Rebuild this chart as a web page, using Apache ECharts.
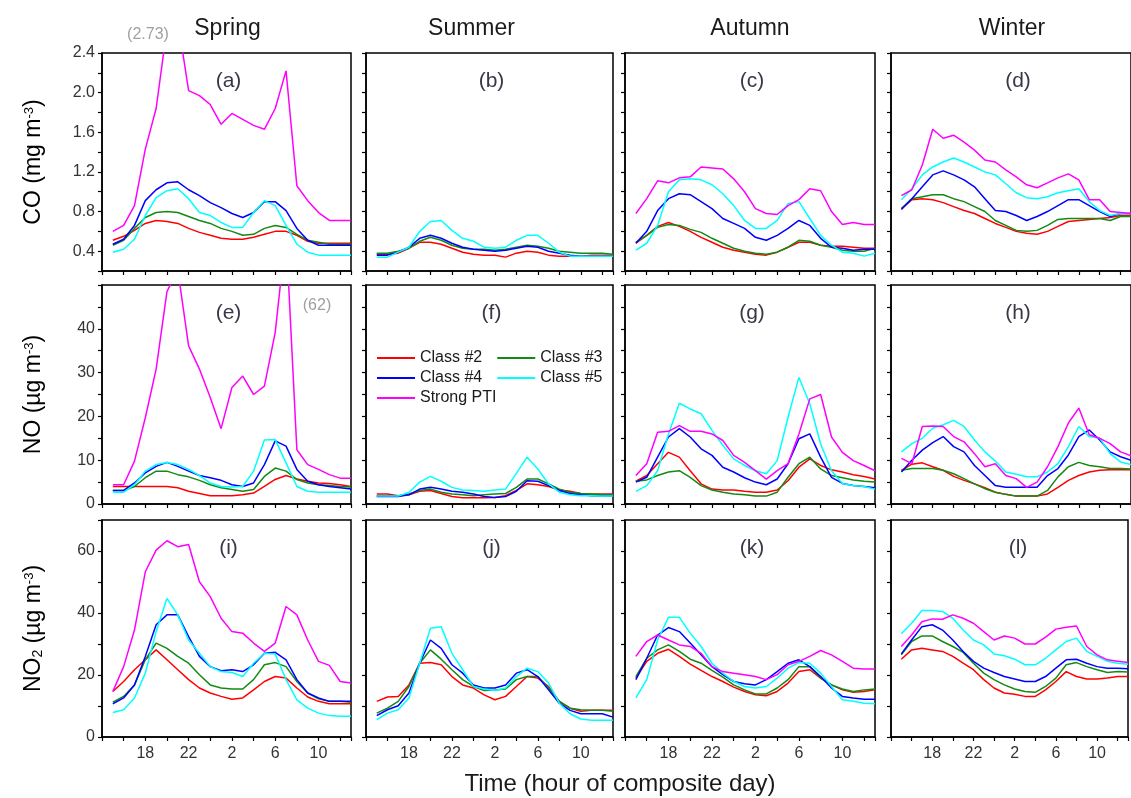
<!DOCTYPE html>
<html>
<head>
<meta charset="utf-8">
<title>PTI diurnal composites</title>
<script src="https://cdn.jsdelivr.net/npm/echarts/dist/echarts.min.js"></script>
<style>
  html, body { margin: 0; padding: 0; background: #fff; }
  #chart { width: 1131px; height: 798px; }
</style>
</head>
<body>
<div id="chart"></div>
<script>
// hour of composite day (15 = 15:00, 37 = 13:00 next day)
const hours = [15,16,17,18,19,20,21,22,23,24,25,26,27,28,29,30,31,32,33,34,35,36,37];
const seasons = ['Spring', 'Summer', 'Autumn', 'Winter'];
const panelTags = ['(a)','(b)','(c)','(d)','(e)','(f)','(g)','(h)','(i)','(j)','(k)','(l)'];
const classNames = ['Class #2', 'Class #3', 'Class #4', 'Class #5', 'Strong PTI'];

// CO (mg m-3)
const co_spring_c2 = [0.51,0.55,0.61,0.68,0.71,0.70,0.68,0.63,0.59,0.56,0.53,0.52,0.52,0.54,0.57,0.60,0.60,0.56,0.50,0.48,0.48,0.48,0.48];
const co_spring_c3 = [0.46,0.51,0.63,0.74,0.79,0.80,0.79,0.75,0.71,0.68,0.63,0.60,0.56,0.57,0.63,0.66,0.64,0.57,0.51,0.49,0.47,0.47,0.47];
const co_spring_c4 = [0.47,0.52,0.66,0.91,1.02,1.09,1.10,1.02,0.96,0.89,0.84,0.78,0.74,0.79,0.90,0.90,0.81,0.63,0.51,0.46,0.46,0.46,0.46];
const co_spring_c5 = [0.39,0.42,0.52,0.76,0.94,1.01,1.03,0.93,0.79,0.76,0.69,0.64,0.64,0.79,0.91,0.86,0.66,0.47,0.39,0.36,0.36,0.36,0.36];
const co_spring_pti = [0.60,0.66,0.86,1.43,1.84,2.65,2.73,2.02,1.97,1.88,1.68,1.79,1.73,1.67,1.63,1.84,2.22,1.06,0.91,0.79,0.71,0.71,0.71];

const co_summer_c2 = [0.37,0.37,0.38,0.43,0.49,0.49,0.47,0.43,0.39,0.37,0.36,0.36,0.34,0.38,0.40,0.39,0.36,0.35,0.35,0.35,0.36,0.36,0.36];
const co_summer_c3 = [0.38,0.38,0.40,0.43,0.50,0.54,0.51,0.46,0.43,0.42,0.42,0.41,0.42,0.44,0.46,0.45,0.43,0.40,0.39,0.38,0.38,0.38,0.37];
const co_summer_c4 = [0.36,0.36,0.39,0.44,0.53,0.56,0.53,0.48,0.44,0.42,0.41,0.40,0.41,0.43,0.45,0.44,0.40,0.38,0.36,0.35,0.35,0.35,0.35];
const co_summer_c5 = [0.34,0.34,0.39,0.44,0.60,0.70,0.71,0.61,0.53,0.50,0.44,0.43,0.44,0.51,0.56,0.56,0.48,0.39,0.35,0.35,0.35,0.35,0.35];

const co_autumn_c2 = [0.48,0.56,0.65,0.69,0.65,0.60,0.54,0.49,0.44,0.41,0.39,0.37,0.36,0.39,0.44,0.49,0.49,0.46,0.45,0.45,0.44,0.43,0.43];
const co_autumn_c3 = [0.49,0.56,0.64,0.67,0.66,0.62,0.59,0.53,0.48,0.43,0.40,0.38,0.37,0.39,0.44,0.51,0.50,0.46,0.44,0.41,0.40,0.40,0.43];
const co_autumn_c4 = [0.48,0.60,0.81,0.93,0.98,0.97,0.90,0.83,0.73,0.68,0.63,0.54,0.51,0.56,0.63,0.71,0.66,0.53,0.44,0.43,0.41,0.42,0.42];
const co_autumn_c5 = [0.41,0.48,0.66,1.00,1.12,1.13,1.12,1.07,0.98,0.86,0.71,0.63,0.63,0.71,0.88,0.90,0.73,0.56,0.46,0.39,0.38,0.35,0.38];
const co_autumn_pti = [0.78,0.93,1.11,1.09,1.14,1.15,1.25,1.24,1.23,1.13,1.00,0.83,0.78,0.77,0.86,0.92,1.03,1.01,0.80,0.67,0.69,0.67,0.67];

const co_winter_c2 = [0.83,0.92,0.93,0.92,0.89,0.85,0.81,0.78,0.73,0.68,0.64,0.60,0.58,0.57,0.60,0.65,0.70,0.71,0.72,0.73,0.74,0.76,0.76];
const co_winter_c3 = [0.83,0.93,0.95,0.97,0.97,0.93,0.90,0.85,0.80,0.71,0.66,0.61,0.60,0.61,0.66,0.72,0.73,0.73,0.73,0.73,0.71,0.75,0.75];
const co_winter_c4 = [0.82,0.93,1.05,1.17,1.21,1.17,1.12,1.05,0.93,0.81,0.80,0.76,0.71,0.75,0.80,0.86,0.92,0.92,0.86,0.80,0.75,0.78,0.78];
const co_winter_c5 = [0.92,1.03,1.17,1.25,1.30,1.34,1.30,1.25,1.20,1.17,1.08,0.99,0.94,0.93,0.95,0.99,1.01,1.03,0.90,0.81,0.76,0.78,0.78];
const co_winter_pti = [0.96,1.02,1.27,1.63,1.54,1.57,1.50,1.42,1.32,1.30,1.22,1.15,1.07,1.04,1.09,1.14,1.18,1.12,0.92,0.92,0.80,0.79,0.78];

// NO (ug m-3)
const no_spring_c2 = [4.0,4.0,4.0,4.0,4.0,4.0,3.7,2.9,2.4,1.9,1.9,1.9,2.1,2.5,4.0,5.6,6.5,5.7,5.2,4.8,4.7,4.4,4.0];
const no_spring_c3 = [3.1,3.1,4.0,6.0,7.5,7.5,6.7,6.2,5.4,4.4,3.7,3.3,2.9,3.3,6.3,8.2,7.5,5.6,4.8,4.4,4.2,4.0,3.9];
const no_spring_c4 = [3.1,3.1,4.8,7.1,8.6,9.5,8.6,7.5,6.5,6.0,5.4,4.4,4.0,4.8,9.0,14.4,13.2,7.9,5.2,4.4,4.0,3.7,3.4];
const no_spring_c5 = [2.7,2.7,4.4,7.5,9.0,9.5,9.0,7.9,6.5,4.8,4.0,3.9,4.0,7.5,14.6,14.7,9.4,4.0,2.9,2.7,2.7,2.7,2.7];
const no_spring_pti = [4.4,4.4,9.8,19.7,30.8,48.5,53.5,36.1,30.8,24.3,17.2,26.6,29.2,25.0,26.9,39.2,62.0,12.4,9.0,7.9,6.7,5.9,5.9];

const no_summer_c2 = [2.3,2.3,1.9,2.1,2.9,3.1,2.4,1.7,1.4,1.4,1.4,1.5,1.9,3.1,4.6,4.4,4.0,3.2,2.9,2.4,2.3,2.3,2.3];
const no_summer_c3 = [1.9,1.9,1.9,2.3,3.1,3.4,2.7,2.3,2.1,1.9,2.1,2.3,2.4,3.8,5.7,5.7,4.6,3.4,2.7,2.4,2.3,2.1,2.1];
const no_summer_c4 = [1.7,1.7,1.7,2.1,3.4,3.8,3.4,2.9,2.7,2.3,1.7,1.5,1.7,2.9,5.3,5.2,4.2,3.1,2.4,2.1,1.9,1.9,1.8];
const no_summer_c5 = [1.8,1.8,1.8,2.7,5.0,6.3,5.2,3.8,3.2,3.1,2.9,3.2,3.4,7.0,10.7,8.0,4.6,2.7,2.1,1.9,1.9,1.8,1.8];

const no_autumn_c2 = [5.2,6.5,9.2,11.8,10.7,7.6,4.6,3.4,3.2,3.2,2.9,2.7,2.7,3.2,5.3,8.4,10.3,8.8,7.8,7.3,6.7,6.3,5.7];
const no_autumn_c3 = [5.2,5.5,6.5,7.3,7.6,6.1,4.2,3.2,2.7,2.3,2.1,1.8,1.8,2.7,6.1,9.2,10.7,8.0,6.5,6.0,5.5,5.2,5.0];
const no_autumn_c4 = [5.0,6.1,10.7,15.3,17.2,15.3,12.6,11.1,8.4,7.3,6.0,5.0,4.4,5.7,9.2,14.9,16.0,10.7,6.1,4.7,4.2,4.0,3.7];
const no_autumn_c5 = [2.9,4.2,7.6,16.0,23.0,21.7,20.6,16.8,13.4,10.3,8.8,7.6,6.9,9.9,19.8,28.9,22.9,13.7,7.6,4.7,4.2,4.0,3.4];
const no_autumn_pti = [6.5,9.2,16.4,16.6,17.9,16.6,16.6,16.0,14.5,11.1,9.5,7.6,5.7,7.6,9.2,16.0,24.0,25.0,15.3,11.8,9.9,8.8,7.6];

const no_winter_c2 = [7.7,9.1,9.4,8.5,7.7,6.3,5.4,4.6,3.7,2.7,2.2,1.8,1.8,1.8,2.3,3.8,5.4,6.5,7.3,7.7,7.8,7.8,7.8];
const no_winter_c3 = [7.7,8.1,8.1,8.1,7.7,6.9,5.8,4.6,3.5,2.7,2.2,1.8,1.8,1.8,3.1,6.2,8.5,9.5,8.8,8.5,8.1,8.1,8.0];
const no_winter_c4 = [7.3,10.0,12.3,14.0,15.4,13.1,11.9,8.8,6.5,4.2,3.8,3.8,3.8,3.8,6.5,8.1,11.2,15.4,16.9,14.6,11.9,10.8,10.0];
const no_winter_c5 = [11.9,13.8,15.0,17.3,18.1,19.1,17.7,14.6,11.9,9.8,7.3,6.8,6.2,6.2,7.3,9.2,13.1,17.7,15.4,15.0,11.5,9.6,9.0];
const no_winter_pti = [10.4,9.2,17.7,17.8,17.7,15.4,14.2,11.5,8.5,9.2,6.5,5.8,3.8,5.0,8.5,13.1,18.5,21.9,15.8,15.0,13.8,11.9,11.0];

// NO2 (ug m-3)
const no2_spring_c2 = [14.7,17.9,21.7,24.9,28.1,24.9,21.7,18.5,15.8,14.2,13.1,12.2,12.6,15.2,17.9,19.5,19.0,15.8,12.9,11.5,10.7,10.7,10.7];
const no2_spring_c3 = [11.2,13.1,16.8,24.9,30.3,28.6,26.0,23.8,20.1,16.8,15.8,15.5,15.5,18.5,23.3,24.0,22.7,17.9,14.2,12.3,11.5,11.5,11.2];
const no2_spring_c4 = [10.7,12.6,16.8,26.0,36.2,39.4,39.4,32.4,26.0,22.7,21.4,21.7,21.1,23.3,27.0,27.3,24.9,18.5,14.2,12.6,11.5,11.5,11.5];
const no2_spring_c5 = [7.9,8.8,12.6,20.6,34.0,44.7,39.4,31.3,27.0,22.7,21.1,20.8,19.5,23.8,27.0,26.8,18.5,12.0,9.3,7.7,6.9,6.7,6.7];
const no2_spring_pti = [14.7,22.7,34.5,53.3,60.3,63.3,61.4,62.1,50.1,45.3,38.3,34.0,33.5,30.3,27.6,30.3,42.1,39.4,31.3,24.4,23.1,17.9,17.4];

const no2_summer_c2 = [11.5,12.9,13.1,16.8,23.8,24.0,23.3,19.5,16.8,15.8,13.6,12.0,13.1,16.3,19.5,19.0,16.3,11.5,9.3,8.3,8.6,8.6,8.6];
const no2_summer_c3 = [7.7,9.3,11.5,16.3,23.8,28.1,25.1,21.7,18.5,16.3,15.0,15.2,15.5,18.5,19.5,19.5,15.8,11.5,9.3,8.8,8.6,8.6,8.3];
const no2_summer_c4 = [6.9,8.8,10.1,14.2,23.8,31.3,28.6,23.3,20.6,16.8,15.8,15.8,16.8,20.6,21.7,19.5,15.2,10.9,8.6,7.5,7.5,7.5,6.4];
const no2_summer_c5 = [5.6,7.7,8.8,12.6,23.8,35.1,35.6,27.0,21.7,16.3,15.5,15.0,15.8,19.5,22.2,21.1,17.4,10.9,7.5,5.8,5.4,5.4,5.4];

const no2_autumn_c2 = [19.0,24.4,27.0,28.3,26.0,23.5,21.5,19.5,17.9,16.1,14.7,13.6,13.3,14.7,17.4,21.1,21.7,19.0,16.8,15.2,14.4,14.7,15.2];
const no2_autumn_c3 = [19.5,25.4,28.1,29.7,27.6,25.1,23.8,21.5,19.3,16.8,15.2,13.9,13.9,15.8,18.5,22.7,22.7,19.0,16.8,15.5,14.7,15.2,15.5];
const no2_autumn_c4 = [18.5,25.4,32.9,35.3,34.0,30.3,26.5,22.7,20.1,17.9,17.2,16.8,18.5,21.1,23.8,24.9,22.7,19.5,15.8,13.1,12.6,12.2,12.2];
const no2_autumn_c5 = [12.6,18.5,31.3,38.6,38.6,33.5,29.2,23.8,20.6,17.9,16.3,15.8,16.3,19.0,22.2,24.0,23.8,20.6,16.3,12.0,11.5,10.9,10.7];
const no2_autumn_pti = [26.0,30.8,32.9,31.3,29.7,29.2,27.0,22.7,21.1,20.6,20.1,19.5,18.5,20.1,23.3,24.4,26.0,27.9,26.5,24.4,22.2,21.9,21.9];

const no2_winter_c2 = [25.1,28.1,28.6,28.1,27.6,26.0,23.8,21.7,18.5,15.8,14.2,13.8,13.1,13.1,15.2,17.9,21.1,19.5,18.7,18.7,19.0,19.5,19.5];
const no2_winter_c3 = [26.5,30.8,32.6,32.6,30.8,29.2,27.3,23.8,20.6,18.5,16.8,15.5,14.7,14.4,16.3,19.0,23.3,24.0,22.7,21.7,20.8,21.1,21.0];
const no2_winter_c4 = [26.8,31.3,35.6,36.2,34.5,31.3,27.6,24.4,22.2,20.8,19.5,18.7,17.9,17.9,19.5,22.2,24.9,25.1,23.8,22.7,22.2,22.2,22.0];
const no2_winter_c5 = [33.3,36.7,40.8,40.8,40.5,38.3,34.5,31.3,29.7,26.8,26.2,25.1,23.3,23.3,25.4,28.1,30.8,31.9,27.6,26.0,24.4,23.8,23.5];
const no2_winter_pti = [29.2,32.9,37.2,38.1,38.0,39.4,38.3,36.7,34.0,31.3,32.6,31.9,30.0,30.0,32.2,34.8,35.4,35.8,29.2,26.5,24.9,24.4,24.0];

// panels row by row, summer has no strong PTI class
const panels = [
  [co_spring_c2, co_spring_c3, co_spring_c4, co_spring_c5, co_spring_pti],
  [co_summer_c2, co_summer_c3, co_summer_c4, co_summer_c5, null],
  [co_autumn_c2, co_autumn_c3, co_autumn_c4, co_autumn_c5, co_autumn_pti],
  [co_winter_c2, co_winter_c3, co_winter_c4, co_winter_c5, co_winter_pti],
  [no_spring_c2, no_spring_c3, no_spring_c4, no_spring_c5, no_spring_pti],
  [no_summer_c2, no_summer_c3, no_summer_c4, no_summer_c5, null],
  [no_autumn_c2, no_autumn_c3, no_autumn_c4, no_autumn_c5, no_autumn_pti],
  [no_winter_c2, no_winter_c3, no_winter_c4, no_winter_c5, no_winter_pti],
  [no2_spring_c2, no2_spring_c3, no2_spring_c4, no2_spring_c5, no2_spring_pti],
  [no2_summer_c2, no2_summer_c3, no2_summer_c4, no2_summer_c5, null],
  [no2_autumn_c2, no2_autumn_c3, no2_autumn_c4, no2_autumn_c5, no2_autumn_pti],
  [no2_winter_c2, no2_winter_c3, no2_winter_c4, no2_winter_c5, no2_winter_pti]
];

const colors = ['#ff0000', '#138a13', '#0000ff', '#00ffff', '#ff00ff'];
const FONT = '"Liberation Sans", Arial, sans-serif';

const colLeft = [102, 366, 625, 891];
const colWidth = [249, 247, 250, 250];
const rowTop = [53, 285, 520];
const rowHeight = [218, 219, 217];

const yScales = [
  {min: 0.2, max: 2.4, interval: 0.2, fmt: v => (Math.round(v * 10) % 4 === 0 ? v.toFixed(1) : '')},
  {min: 0, max: 50, interval: 5, fmt: v => (v % 10 === 0 && v < 50 ? String(v) : '')},
  {min: 0, max: 70, interval: 10, fmt: v => (v % 20 === 0 ? String(v) : '')}
];

let grids = [], xAxes = [], yAxes = [], series = [];
for (let r = 0; r < 3; r++) {
  for (let c = 0; c < 4; c++) {
    let idx = r * 4 + c;
    grids.push({
      left: colLeft[c], top: rowTop[r], width: colWidth[c], height: rowHeight[r],
      show: true, borderColor: '#000', borderWidth: 1.5, backgroundColor: 'transparent'
    });
    xAxes.push({
      type: 'value', gridIndex: idx, min: 14, max: 37, interval: 2,
      axisLine: {show: true, onZero: false, lineStyle: {color: '#000', width: 1.5}},
      axisTick: {show: true, length: 4, lineStyle: {color: '#000', width: 1.2}},
      splitLine: {show: false},
      axisLabel: {
        show: r === 2, margin: 9, color: '#333', fontSize: 16, fontFamily: FONT,
        // labels every 4 h from 18 on, written as clock hours
        formatter: v => (v >= 18 && v <= 34 && (v - 18) % 4 === 0 ? String(v % 24) : '')
      }
    });
    let ys = yScales[r];
    yAxes.push({
      type: 'value', gridIndex: idx, min: ys.min, max: ys.max, interval: ys.interval,
      axisLine: {show: true, lineStyle: {color: '#000', width: 1.5}},
      axisTick: {show: true, length: 4, lineStyle: {color: '#000', width: 1.2}},
      splitLine: {show: false},
      axisLabel: {show: c === 0, margin: 7, color: '#333', fontSize: 16, fontFamily: FONT, formatter: ys.fmt}
    });
    panels[idx].forEach((vals, k) => {
      if (!vals) return;
      series.push({
        type: 'line', name: classNames[k], xAxisIndex: idx, yAxisIndex: idx,
        data: hours.map((h, i) => [h, vals[i]]),
        showSymbol: false, symbol: 'none', clip: true, silent: true,
        lineStyle: {color: colors[k], width: 1.5},
        itemStyle: {color: colors[k]}
      });
    });
  }
}

// texts around the panels
let graphics = [];
seasons.forEach((s, c) => {
  graphics.push({type: 'text', x: colLeft[c] + colWidth[c] / 2 + [1, -18, 0, -4][c], y: 29,
    style: {text: s, fontSize: 23, fontFamily: FONT, fill: '#1a1a1a', align: 'center', verticalAlign: 'middle'}});
});
panelTags.forEach((t, i) => {
  let r = Math.floor(i / 4), c = i % 4;
  graphics.push({type: 'text', x: colLeft[c] + colWidth[c] / 2 + 2, y: rowTop[r] + 28,
    style: {text: t, fontSize: 21, fontFamily: FONT, fill: '#3a3848', align: 'center', verticalAlign: 'middle'}});
});
const yNames = [
  '{a|CO (mg m}{s|-3}{a|)}',
  '{a|NO (\u00b5g m}{s|-3}{a|)}',
  '{a|NO}{b|2}{a| (\u00b5g m}{s|-3}{a|)}'
];
const richName = {
  a: {fontSize: 23, fontFamily: FONT, color: '#1a1a1a'},
  s: {fontSize: 13, fontFamily: FONT, color: '#1a1a1a', verticalAlign: 'top'},
  b: {fontSize: 14, fontFamily: FONT, color: '#1a1a1a', verticalAlign: 'bottom'}
};
yNames.forEach((t, r) => {
  graphics.push({type: 'text', x: 34, y: rowTop[r] + rowHeight[r] / 2, rotation: Math.PI / 2,
    style: {text: t, rich: richName, align: 'center', verticalAlign: 'middle'}});
});
graphics.push({type: 'text', x: 620, y: 784,
  style: {text: 'Time (hour of composite day)', fontSize: 24, fontFamily: FONT, fill: '#1a1a1a', align: 'center', verticalAlign: 'middle'}});
// off-scale peaks of the strong PTI curve
graphics.push({type: 'text', x: 148, y: 35,
  style: {text: '(2.73)', fontSize: 16, fontFamily: FONT, fill: '#a0a0a0', align: 'center', verticalAlign: 'middle'}});
graphics.push({type: 'text', x: 317, y: 306,
  style: {text: '(62)', fontSize: 16, fontFamily: FONT, fill: '#a0a0a0', align: 'center', verticalAlign: 'middle'}});

// legend inside panel (f): one legend per row so the two columns line up
const legendRows = [[classNames[0], classNames[1]], [classNames[2], classNames[3]], [classNames[4]]];
const legendTops = [345, 365, 385];
const legends = legendRows.map((names, i) => ({
  data: names, left: 372, top: legendTops[i], orient: 'horizontal',
  icon: 'rect', itemWidth: 38, itemHeight: 2, itemGap: 15, selectedMode: false,
  textStyle: {fontSize: 16, fontFamily: FONT, color: '#1a1a1a'}
}));

const chart = echarts.init(document.getElementById('chart'), null, {renderer: 'canvas'});
chart.setOption({
  animation: false,
  backgroundColor: '#fff',
  grid: grids,
  xAxis: xAxes,
  yAxis: yAxes,
  series: series,
  legend: legends,
  graphic: graphics
});
</script>
</body>
</html>
